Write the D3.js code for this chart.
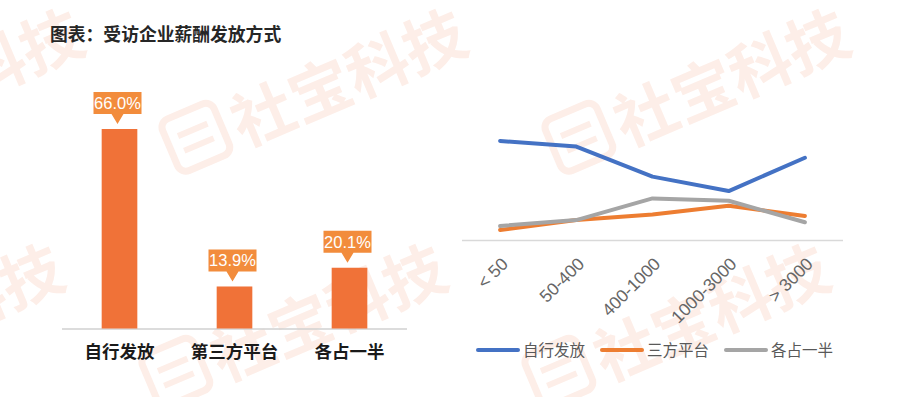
<!DOCTYPE html>
<html>
<head>
<meta charset="utf-8">
<script src="https://cdn.jsdelivr.net/npm/d3@7"></script>
<style>
  body { margin: 0; background: #fff; }
  svg { display: block; font-family: "Noto Sans CJK SC", "Noto Sans", sans-serif; }
</style>
</head>
<body>
<svg id="chart" width="911" height="397"></svg>
<script>
// bar chart: how companies pay salaries
const barCategories = ['自行发放', '第三方平台', '各占一半'];
const barValues = [66.0, 13.9, 20.1];

// line chart: by company size
const sizeCategories = ['< 50', '50-400', '400-1000', '1000-3000', '> 3000'];
const seriesNames = ['自行发放', '三方平台', '各占一半'];
const selfPay = [80.5, 76.0, 51.5, 39.8, 66.9];
const thirdParty = [8.1, 16.2, 20.8, 27.8, 19.5];
const halfHalf = [11.4, 16.2, 33.8, 31.9, 14.4];
const seriesColors = ['#4472C4', '#ED7D31', '#A5A5A5'];

const svg = d3.select('#chart');

// watermark tiles, drawn first so everything sits on top
const wmColor = '#fdeee8';
const marks = [[-208, 170], [175, 170], [558, 170], [-228, 405], [155, 405], [538, 405]];
const wm = svg.append('g').attr('class', 'watermark');
marks.forEach(([x, y]) => {
    const g = wm.append('g').attr('transform', `translate(${x},${y}) rotate(-23)`);
    g.append('rect')
        .attr('x', 4).attr('y', -50).attr('width', 56).attr('height', 56).attr('rx', 9)
        .attr('fill', 'none').attr('stroke', wmColor).attr('stroke-width', 7);
    g.append('path')
        .attr('d', 'M16,-30H48M16,-14H48')
        .attr('stroke', wmColor).attr('stroke-width', 6);
    g.append('text')
        .attr('x', 72).attr('y', 6)
        .attr('font-size', 62).attr('font-weight', 'bold')
        .attr('fill', wmColor)
        .text('社宝科技');
});

svg.append('text')
    .attr('x', 50).attr('y', 41)
    .attr('font-size', 17.8).attr('font-weight', 'bold')
    .attr('fill', '#262626')
    .text('图表：受访企业薪酬发放方式');

// ---- left: bars ----
const barX = d3.scaleBand()
    .domain(barCategories)
    .range([62, 407])
    .paddingInner(0.69)
    .paddingOuter(0.345);

const barY = d3.scaleLinear()
    .domain([0, 66])
    .range([328.5, 129]);

svg.append('line')
    .attr('x1', 62).attr('x2', 407)
    .attr('y1', barY(0) + 0.5).attr('y2', barY(0) + 0.5)
    .attr('stroke', '#d0d0d0').attr('stroke-width', 1.5);

svg.append('g').selectAll('rect')
    .data(barValues)
    .join('rect')
    .attr('x', (d, i) => barX(barCategories[i]))
    .attr('y', d => barY(d))
    .attr('width', barX.bandwidth())
    .attr('height', d => barY(0) - barY(d))
    .attr('fill', '#F07238');

const callouts = svg.append('g').selectAll('g')
    .data(barValues)
    .join('g')
    .attr('transform', (d, i) => `translate(${barX(barCategories[i]) + barX.bandwidth() / 2 - 2},${barY(d) - 4})`);

callouts.append('path')
    .attr('d', 'M-24,-33H24V-11H6L0,-1L-6,-11H-24Z')
    .attr('fill', '#F28C3C');

callouts.append('text')
    .attr('y', -16)
    .attr('text-anchor', 'middle')
    .attr('font-family', '"Liberation Sans Narrow", "Liberation Sans", sans-serif')
    .attr('font-size', 16.5)
    .attr('fill', '#fff')
    .text(d => d.toFixed(1) + '%');

svg.append('g').selectAll('text')
    .data(barCategories)
    .join('text')
    .attr('x', d => barX(d) + barX.bandwidth() / 2)
    .attr('y', 358)
    .attr('text-anchor', 'middle')
    .attr('font-size', 17.5).attr('font-weight', 'bold')
    .attr('fill', '#1a1a1a')
    .text(d => d);

// ---- right: lines ----
const lineX = d3.scalePoint()
    .domain(sizeCategories)
    .range([462, 843])
    .padding(0.5);

const lineY = d3.scaleLinear()
    .domain([0, 100])
    .range([240, 117]);

svg.append('line')
    .attr('x1', 462).attr('x2', 843)
    .attr('y1', 240.5).attr('y2', 240.5)
    .attr('stroke', '#d9d9d9').attr('stroke-width', 1.5);

svg.append('g').selectAll('text')
    .data(sizeCategories)
    .join('text')
    .attr('transform', d => `translate(${lineX(d) + 9},265) rotate(-45)`)
    .attr('text-anchor', 'end')
    .attr('font-family', '"Liberation Sans", sans-serif')
    .attr('font-size', 17.5)
    .attr('fill', '#666')
    .text(d => d);

const line = d3.line()
    .x((d, i) => lineX(sizeCategories[i]))
    .y(d => lineY(d));

const series = [selfPay, thirdParty, halfHalf];
// grey drawn after orange, blue on top
[1, 2, 0].forEach(k => {
    svg.append('path')
        .datum(series[k])
        .attr('d', line)
        .attr('fill', 'none')
        .attr('stroke', seriesColors[k])
        .attr('stroke-width', 4)
        .attr('stroke-linecap', 'round')
        .attr('stroke-linejoin', 'round');
});

const legendX = [478, 602, 726];
const legend = svg.append('g').selectAll('g')
    .data(seriesNames)
    .join('g')
    .attr('transform', (d, i) => `translate(${legendX[i]},350)`);

legend.append('line')
    .attr('x1', 0).attr('x2', 40)
    .attr('stroke', (d, i) => seriesColors[i])
    .attr('stroke-width', 4)
    .attr('stroke-linecap', 'round');

legend.append('text')
    .attr('x', 45).attr('y', 5.5)
    .attr('font-size', 15.5)
    .attr('fill', '#595959')
    .text(d => d);
</script>
</body>
</html>
